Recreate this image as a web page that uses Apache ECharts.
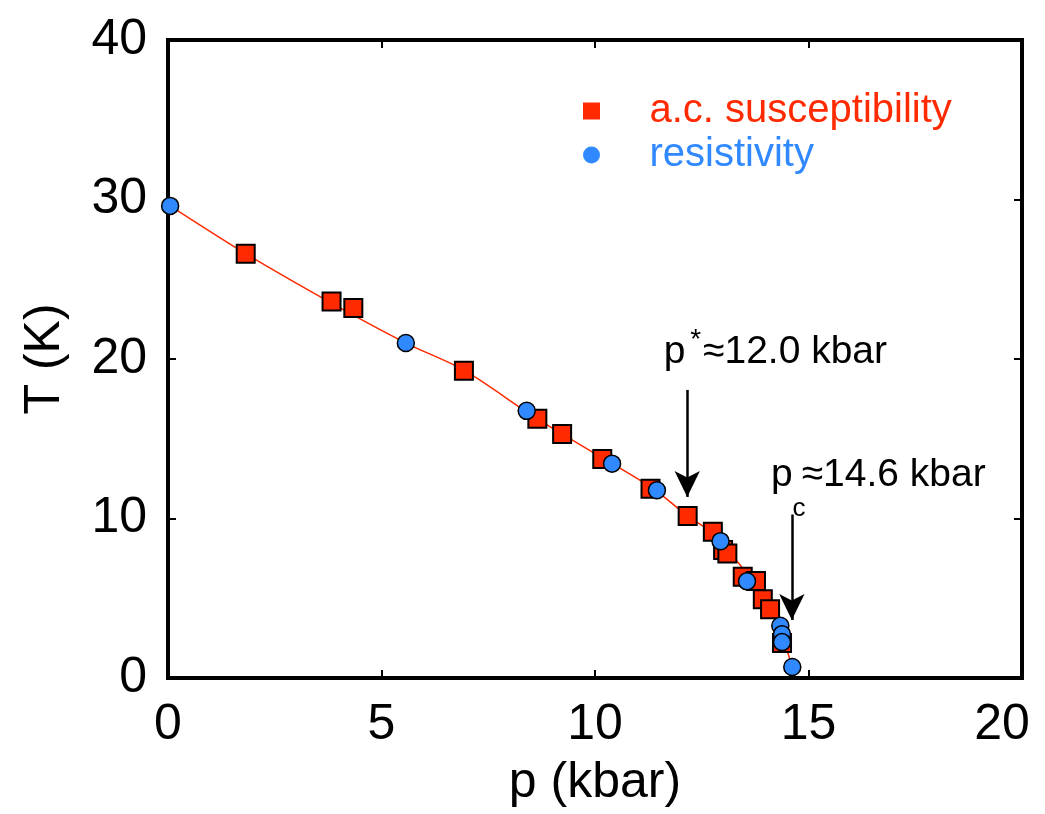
<!DOCTYPE html>
<html>
<head>
<meta charset="utf-8">
<script src="https://cdn.jsdelivr.net/npm/echarts@6.0.0/dist/echarts.min.js"></script>
<style>
  html, body { margin: 0; padding: 0; background: #fff; }
  #main { width: 1045px; height: 814px; }
</style>
</head>
<body>
<div id="main"></div>
<script>
// a.c. susceptibility (red squares)
var acP = [1.82, 3.83, 4.34, 6.93, 8.65, 9.23, 10.17, 11.30, 12.17, 12.76, 13.00, 13.10, 13.46, 13.77, 13.93, 14.10, 14.38];
var acT = [26.6, 23.6, 23.2, 19.27, 16.25, 15.3, 13.73, 11.86, 10.15, 9.17, 8.02, 7.8, 6.35, 6.08, 4.94, 4.31, 2.2];

// resistivity (blue circles)
var resP = [0.05, 5.57, 8.40, 10.40, 11.45, 12.94, 13.56, 14.34, 14.38, 14.38, 14.62];
var resT = [29.6, 21.0, 16.75, 13.44, 11.77, 8.58, 6.06, 3.27, 2.75, 2.25, 0.69];

// guide line through the points
var curveP = [0.05, 1.82, 3.83, 5.57, 6.93, 8.5, 9.23, 10.3, 11.4, 12.17, 12.8, 13.3, 13.7, 14.1, 14.35, 14.62];
var curveT = [29.6, 26.6, 23.5, 21.0, 19.3, 16.5, 15.3, 13.6, 11.8, 10.15, 9.0, 7.4, 6.1, 4.4, 2.9, 0.69];

var xTicks = [0, 5, 10, 15, 20];
var yTicks = [0, 10, 20, 30, 40];

// p* and pc arrows: [p, T start, T end]
var arrowP = [12.16, 14.61];
var arrowFrom = [18.06, 10.25];
var arrowTo = [11.35, 3.64];

var RED = '#ff2a00';
var BLUE = '#3189ff';
var FONT = "'Liberation Sans', Arial, Helvetica, sans-serif";

function pairs(xs, ys) {
    var out = [];
    for (var i = 0; i < xs.length; i++) out.push([xs[i], ys[i]]);
    return out;
}

var arrowLines = [];
for (var i = 0; i < arrowP.length; i++) {
    arrowLines.push([{coord: [arrowP[i], arrowFrom[i]]}, {coord: [arrowP[i], arrowTo[i]]}]);
}

function frameAxis(extra) {
    var a = {
        type: 'value',
        splitLine: {show: false},
        axisLine: {show: true, onZero: false, lineStyle: {color: '#000', width: 4, cap: 'square'}},
        axisTick: {show: true, inside: true, length: 8, lineStyle: {color: '#000', width: 2}},
        axisLabel: {show: false}
    };
    for (var k in extra) a[k] = extra[k];
    return a;
}

var chart = echarts.init(document.getElementById('main'));

var option = {
    animation: false,
    backgroundColor: '#fff',
    textStyle: {fontFamily: FONT},
    grid: {left: 168, right: 23, top: 40, bottom: 136, outerBoundsMode: 'none'},
    legend: {
        orient: 'vertical',
        left: 578,
        top: 86,
        itemWidth: 106,
        itemHeight: 17,
        itemGap: 4,
        selectedMode: false,
        textStyle: {fontSize: 40, fontFamily: FONT},
        data: [
            {name: 'a.c. susceptibility', icon: 'path://M0,0H10V10H0Z',
             itemStyle: {color: RED, borderWidth: 0}, textStyle: {color: RED}},
            {name: 'resistivity', icon: 'circle',
             itemStyle: {color: BLUE, borderWidth: 0}, textStyle: {color: BLUE}}
        ]
    },
    xAxis: [
        frameAxis({
            position: 'bottom', min: 0, max: 20, interval: 5,
            axisLabel: {show: true, fontSize: 50, margin: 22, color: '#000', fontFamily: FONT,
                formatter: function (v) {
                    if (xTicks.indexOf(v) < 0) return '';
                    return v === 20 ? '{last|' + v + '}' : String(v);
                },
                rich: {last: {fontSize: 50, fontFamily: FONT, color: '#000', padding: [0, 40, 0, 0]}}},
            name: 'p (kbar)', nameLocation: 'middle', nameGap: 80,
            nameTextStyle: {fontSize: 50, color: '#000', fontFamily: FONT}
        }),
        frameAxis({position: 'top', min: 0, max: 20, interval: 5})
    ],
    yAxis: [
        frameAxis({
            position: 'left', min: 0, max: 40, interval: 10,
            axisLabel: {show: true, fontSize: 50, margin: 21, color: '#000', fontFamily: FONT,
                padding: [0, 0, 20, 0],
                formatter: function (v) { return yTicks.indexOf(v) >= 0 ? String(v) : ''; }},
            name: 'T (K)', nameLocation: 'middle', nameGap: 98,
            nameTextStyle: {fontSize: 50, color: '#000', fontFamily: FONT}
        }),
        frameAxis({position: 'right', min: 0, max: 40, interval: 10})
    ],
    series: [
        {
            name: 'curve',
            type: 'line',
            data: pairs(curveP, curveT),
            smooth: 0.3,
            symbol: 'none',
            lineStyle: {color: RED, width: 1.5},
            silent: true,
            z: 1,
            markLine: {
                silent: true,
                symbol: ['none', 'arrow'],
                symbolSize: [19, 26],
                label: {show: false},
                lineStyle: {color: '#000', width: 2.5, type: 'solid'},
                data: arrowLines
            }
        },
        {
            name: 'a.c. susceptibility',
            type: 'scatter',
            data: pairs(acP, acT),
            symbol: 'rect',
            symbolSize: 18,
            itemStyle: {color: RED, borderColor: '#000', borderWidth: 2, opacity: 1},
            z: 2
        },
        {
            name: 'resistivity',
            type: 'scatter',
            data: pairs(resP, resT),
            symbol: 'circle',
            symbolSize: 17,
            itemStyle: {color: BLUE, borderColor: '#000', borderWidth: 1.5, opacity: 1},
            z: 3
        }
    ]
};
chart.setOption(option);

// annotation texts, anchored in data space
var notes = [
    {text: 'p', p: 11.61, T: 20.4, size: 39, align: 'left'},
    {text: '*', p: 12.36, T: 21.2, size: 28, align: 'center'},
    {text: '\u224812.0 kbar', p: 12.53, T: 20.4, size: 39, align: 'left'},
    {text: 'p', p: 14.12, T: 12.7, size: 39, align: 'left'},
    {text: 'c', p: 14.78, T: 10.6, size: 26, align: 'center'},
    {text: '\u224814.6 kbar', p: 14.84, T: 12.7, size: 39, align: 'left'}
];
var graphics = [];
notes.forEach(function (n) {
    var pt = chart.convertToPixel({xAxisIndex: 0, yAxisIndex: 0}, [n.p, n.T]);
    graphics.push({
        type: 'text',
        x: pt[0],
        y: pt[1],
        silent: true,
        style: {
            text: n.text,
            fill: '#000',
            font: n.size + 'px ' + FONT,
            align: n.align,
            verticalAlign: 'middle'
        }
    });
});
chart.setOption({graphic: graphics});
</script>
</body>
</html>
